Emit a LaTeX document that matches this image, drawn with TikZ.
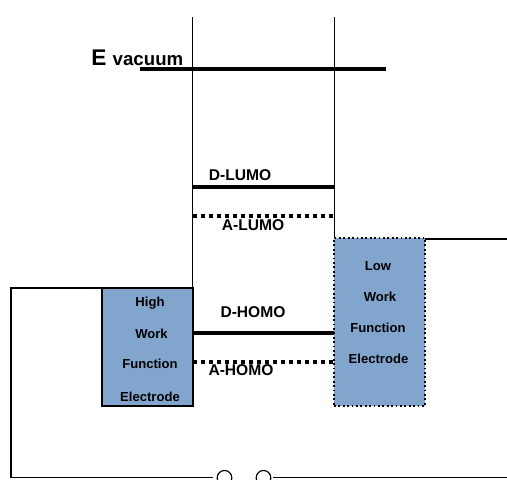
\documentclass[tikz,border=0pt]{standalone}
\usepackage{fontspec}
\setmainfont{Liberation Sans}
\definecolor{electrodeblue}{HTML}{82A5CE}
\tikzset{
  electrode/.style={draw=black,fill=electrodeblue,minimum width=68.25pt,inner sep=0pt,outer sep=0pt,anchor=north west},
  wire/.style={draw=black,line width=0.8pt},
  level/.style={line width=2.4pt},
  dotlevel/.style={line width=2.4pt,dash pattern=on 3pt off 3pt},
  levellabel/.style={font=\bfseries\fontsize{11.7}{13}\selectfont,inner sep=0pt},
  boxlabel/.style={font=\bfseries\fontsize{9.8}{11}\selectfont,inner sep=0pt},
  switchpin/.style={circle,draw=black,line width=0.9pt,minimum size=11pt,inner sep=0pt,outer sep=0pt}
}
\begin{document}
\begin{tikzpicture}[x=0.75pt,y=-0.75pt]
  \useasboundingbox (0,0) rectangle (507,479);

  % electrodes
  \node[electrode,minimum height=88.5pt,line width=1.3pt] (high) at (101.7,288) {};
  \node[electrode,minimum height=126pt,line width=1.3pt,dotted] (low) at (334,238) {};

  \coordinate (topleft) at (192.5,17);
  \coordinate (topright) at (334.5,17);
  \coordinate (vacleft) at (140,69);
  \coordinate (vacright) at (386,69);
  \coordinate (cornertop) at (11,288);
  \coordinate (cornerbot) at (11,477.8);
  \coordinate (exitright) at (507,239);
  \coordinate (exitbot) at (507,477.8);
  \node[switchpin] (pina) at (224.5,477.8) {};
  \node[switchpin] (pinb) at (263.5,477.8) {};

  % wires
  \draw[wire] (topleft) -- (topleft |- high.north);
  \draw[wire] (topright) -- (topright |- low.north);
  \draw[wire,shorten >=3pt] (high.north west) -- (cornertop) -- (cornerbot) -- (pina);
  \draw[wire,shorten <=1.5pt] (pinb) -- (exitbot);
  \draw[wire] (low.north east |- exitright) -- (exitright);

  % energy levels
  \draw[level] (vacleft) -- (vacright);
  \coordinate (dluL) at (193,187);
  \coordinate (dluR) at (334,187);
  \coordinate (aluL) at (193,216);
  \coordinate (aluR) at (334,216);
  \coordinate (dhoL) at (193,333);
  \coordinate (dhoR) at (334,333);
  \coordinate (ahoL) at (193,362);
  \coordinate (ahoR) at (334,362);
  \draw[level] (dluL) -- (dluR);
  \draw[dotlevel] (aluL) -- (aluR);
  \draw[level] (dhoL) -- (dhoR);
  \draw[dotlevel] (ahoL) -- (ahoR);

  % labels
  \node[inner sep=0pt,font=\bfseries\fontsize{17}{19}\selectfont] (elabel) at (99,58) {E};
  \node[inner sep=0pt,font=\bfseries\fontsize{14}{16}\selectfont] (vaclabel) at (148,61) {vacuum};
  \node[levellabel] (dlumo) at (240,175) {D-LUMO};
  \node[levellabel] (alumo) at (253,225) {A-LUMO};
  \node[levellabel] (dhomo) at (253,312) {D-HOMO};
  \node[levellabel] (ahomo) at (241,370) {A-HOMO};

  \node[boxlabel] (higha) at (150,303) {High};
  \node[boxlabel] (highb) at (151.5,334) {Work};
  \node[boxlabel] (highc) at (150,364) {Function};
  \node[boxlabel] (highd) at (150,397) {Electrode};
  \node[boxlabel] (lowa) at (378,266) {Low};
  \node[boxlabel] (lowb) at (380,297) {Work};
  \node[boxlabel] (lowc) at (378,328) {Function};
  \node[boxlabel] (lowd) at (378.5,359) {Electrode};
\end{tikzpicture}
\end{document}
